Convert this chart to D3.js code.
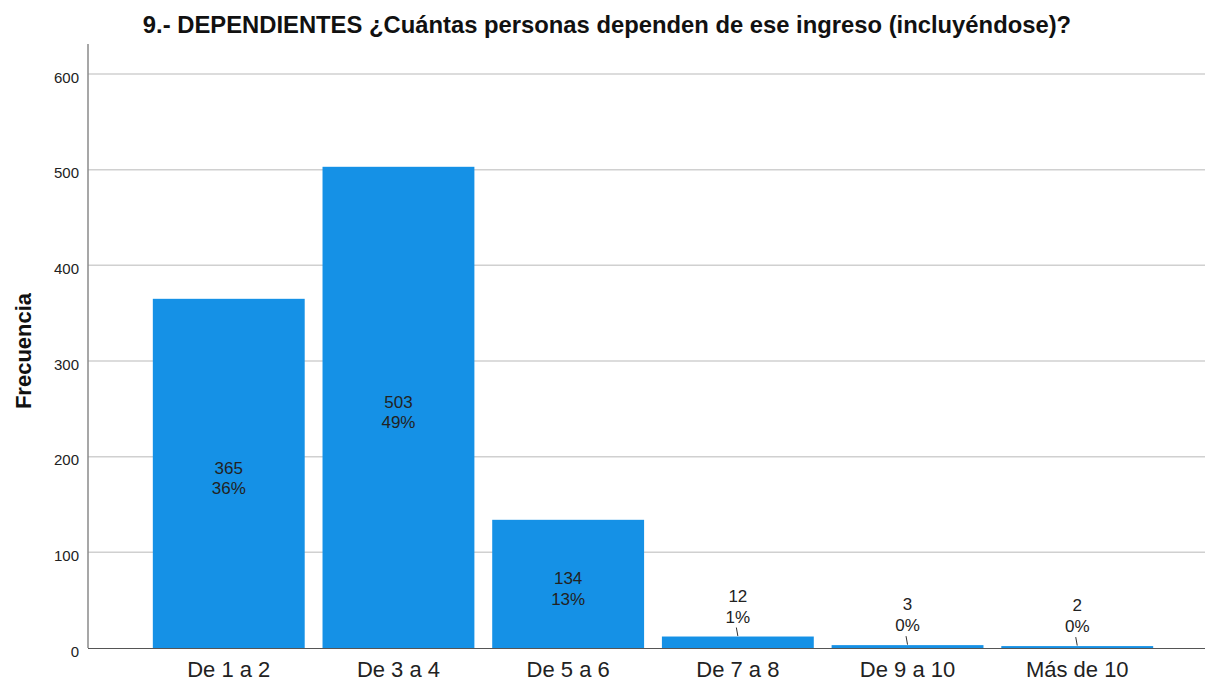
<!DOCTYPE html>
<html>
<head>
<meta charset="utf-8">
<script src="https://cdn.jsdelivr.net/npm/d3@7"></script>
<style>
body { margin: 0; background: #fff; }
text { font-family: "Liberation Sans", Arial, sans-serif; }
</style>
</head>
<body>
<div class="holder"></div>
<script>
var categories = ['De 1 a 2', 'De 3 a 4', 'De 5 a 6', 'De 7 a 8', 'De 9 a 10', 'Más de 10']
var counts = [365, 503, 134, 12, 3, 2]
var percents = ['36%', '49%', '13%', '1%', '0%', '0%']
var yTicks = [0, 100, 200, 300, 400, 500, 600]

var width = 1205,
  height = 685

var svg = d3.select('.holder')
  .append('svg')
  .attr('width', width)
  .attr('height', height)

var xScale = d3.scaleBand()
  .domain(categories)
  .range([144, 1162])
  .paddingInner(0.105)
  .paddingOuter(0.052)

var yScale = d3.scaleLinear()
  .domain([0, 600])
  .range([648, 74])

// grid
svg.append('g')
  .selectAll('line')
  .data(yTicks.slice(1))
  .enter()
  .append('line')
  .attr('x1', 88)
  .attr('x2', width)
  .attr('y1', function (d) { return yScale(d) })
  .attr('y2', function (d) { return yScale(d) })
  .attr('stroke', '#d0d0d0')
  .attr('stroke-width', 1.5)

// y axis
var yAxis = d3.axisLeft(yScale)
  .tickValues(yTicks)
  .tickSize(0)
  .tickPadding(9)

var yChart = svg.append('g')
  .attr('transform', 'translate(88,0)')
  .attr('font-size', 15)
  .call(yAxis)
yChart.select('.domain').remove()
yChart.selectAll('text')
  .attr('dy', 8)
  .attr('font-size', 15)
  .attr('fill', '#222')
  .attr('font-family', '"Liberation Sans", Arial, sans-serif')

svg.append('line')
  .attr('x1', 88).attr('x2', 88)
  .attr('y1', 44).attr('y2', 648)
  .attr('stroke', '#8a8a8a')
  .attr('stroke-width', 1.5)

// bars
svg.selectAll('.bar')
  .data(counts)
  .enter()
  .append('rect')
  .attr('class', 'bar')
  .attr('x', function (d, i) { return xScale(categories[i]) })
  .attr('y', function (d) { return yScale(d) })
  .attr('width', xScale.bandwidth())
  .attr('height', function (d) { return yScale(0) - yScale(d) })
  .attr('fill', '#1591e6')

// baseline
svg.append('line')
  .attr('x1', 88).attr('x2', width)
  .attr('y1', 648.5).attr('y2', 648.5)
  .attr('stroke', '#555')
  .attr('stroke-width', 1.2)

// x axis labels
var xAxis = d3.axisBottom(xScale).tickSize(0).tickPadding(13)
var xChart = svg.append('g')
  .attr('transform', 'translate(0,648)')
  .call(xAxis)
xChart.select('.domain').remove()
xChart.selectAll('text')
  .attr('font-size', 22)
  .attr('fill', '#222')
  .attr('font-family', '"Liberation Sans", Arial, sans-serif')

// value labels
var labels = svg.append('g')
counts.forEach(function (d, i) {
  var cx = xScale(categories[i]) + xScale.bandwidth() / 2
  var top = yScale(d)
  var inside = (yScale(0) - top) > 60
  var y1, y2
  if (inside) {
    var mid = (top + yScale(0)) / 2
    y1 = mid + 0.5
    y2 = mid + 21
  } else {
    labels.append('line')
      .attr('x1', cx - 1.5).attr('x2', cx)
      .attr('y1', top - 9).attr('y2', top - 0.5)
      .attr('stroke', '#333')
      .attr('stroke-width', 1)
    y1 = top - 35
    y2 = top - 14
  }
  labels.append('text')
    .attr('x', cx).attr('y', y1)
    .attr('text-anchor', 'middle')
    .attr('font-size', 17)
    .attr('fill', '#222')
    .text(d)
  labels.append('text')
    .attr('x', cx).attr('y', y2)
    .attr('text-anchor', 'middle')
    .attr('font-size', 17)
    .attr('fill', '#222')
    .text(percents[i])
})

// title
svg.append('text')
  .attr('x', 607)
  .attr('y', 33)
  .attr('text-anchor', 'middle')
  .attr('font-size', 23.8)
  .attr('font-weight', 'bold')
  .attr('fill', '#111')
  .text('9.- DEPENDIENTES ¿Cuántas personas dependen de ese ingreso (incluyéndose)?')

svg.append('text')
  .attr('transform', 'translate(31,351) rotate(-90)')
  .attr('text-anchor', 'middle')
  .attr('font-size', 22)
  .attr('font-weight', 'bold')
  .attr('fill', '#111')
  .text('Frecuencia')
</script>
</body>
</html>
